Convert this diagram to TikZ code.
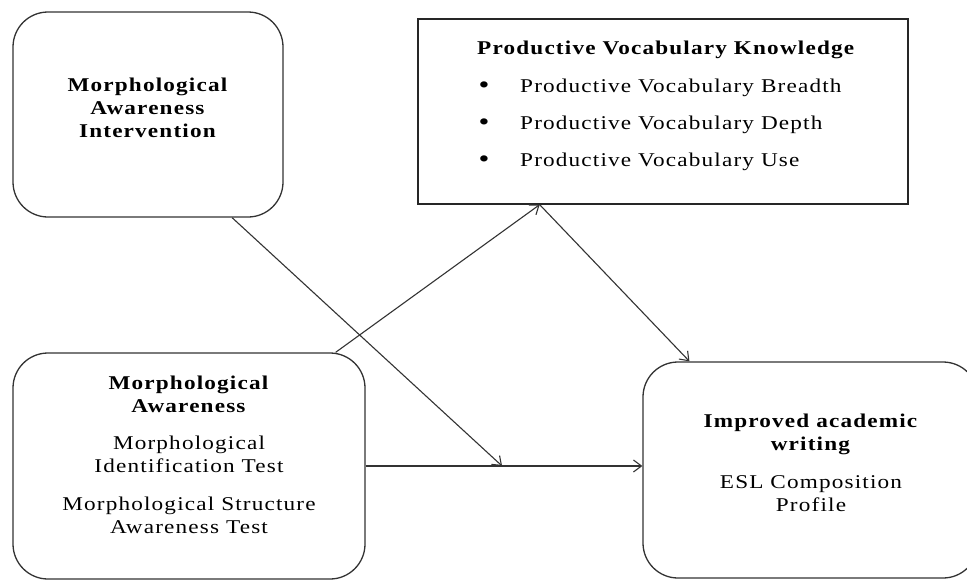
\documentclass[tikz,border=0pt]{standalone}
\usepackage{fontspec}
\setmainfont{Liberation Serif}[LetterSpace=6,FakeStretch=1.19]
\usetikzlibrary{arrows.meta,calc}
\begin{document}
\begin{tikzpicture}[x=1pt,y=-1pt,
  rbox/.style={draw=black!80,line width=1.3pt,rounded corners=35pt,inner sep=0pt},
  sbox/.style={draw=black!85,line width=1.3pt,inner sep=0pt},
  txt/.style={align=center,inner sep=0pt,font=\fontsize{19.5}{23}\selectfont,text=black},
  ltxt/.style={anchor=west,inner sep=0pt,font=\fontsize{19.5}{23}\selectfont,text=black},
  bul/.style={inner sep=0pt,font=\fontsize{26}{23}\selectfont,text=black},
  conn/.style={draw=black!80,line width=1.1pt,-{Straight Barb[length=8pt,width=12pt,line width=1.1pt]}}]
\useasboundingbox (0,0) rectangle (967,582);
\fill[white] (0,0) rectangle (967,582);
% boxes
\node[rbox,minimum width=270pt,minimum height=205pt] (mai) at (148,114.5) {};
\node[sbox,minimum width=490pt,minimum height=185pt] (pvk) at (663,111.5) {};
\node[rbox,minimum width=352pt,minimum height=226pt] (ma) at (189,466) {};
\node[rbox,minimum width=335pt,minimum height=216pt] (iaw) at (810.5,470) {};
% texts
\node[txt] (t1) at (148,108) {\textbf{Morphological}\\\textbf{Awareness}\\\textbf{Intervention}};
\node[ltxt] (t2) at (477,50) {\textbf{Productive Vocabulary Knowledge}};
\node[bul] (b1) at (484,88) {•};
\node[bul] (b2) at (484,125) {•};
\node[bul] (b3) at (484,162) {•};
\node[ltxt] (t3) at (520,88) {Productive Vocabulary Breadth};
\node[ltxt] (t4) at (520,125) {Productive Vocabulary Depth};
\node[ltxt] (t5) at (520,162) {Productive Vocabulary Use};
\node[txt] (t6) at (189,394.5) {\textbf{Morphological}\\\textbf{Awareness}};
\node[txt] (t7) at (189,454.5) {Morphological\\Identification Test};
\node[txt] (t8) at (189,515) {Morphological Structure\\Awareness Test};
\node[txt] (t9) at (811,434.5) {\textbf{Improved academic}\\\textbf{writing}};
\node[txt] (t10) at (811,494) {ESL Composition\\Profile};
% connectors
\coordinate (j) at ($(ma.east)!0.493!(ma.east -| iaw.west)$);
\draw[conn] ($(mai.south west)!0.81!(mai.south east)$) -- (j);
\draw[conn] ($(ma.north west)!0.915!(ma.north east)$) -- ($(pvk.south west)!0.249!(pvk.south east)$);
\draw[conn] ($(pvk.south west)!0.249!(pvk.south east)$) -- ($(iaw.north west)!0.14!(iaw.north east)$);
\draw[conn] (ma.east) -- (ma.east -| iaw.west);
\end{tikzpicture}
\end{document}
